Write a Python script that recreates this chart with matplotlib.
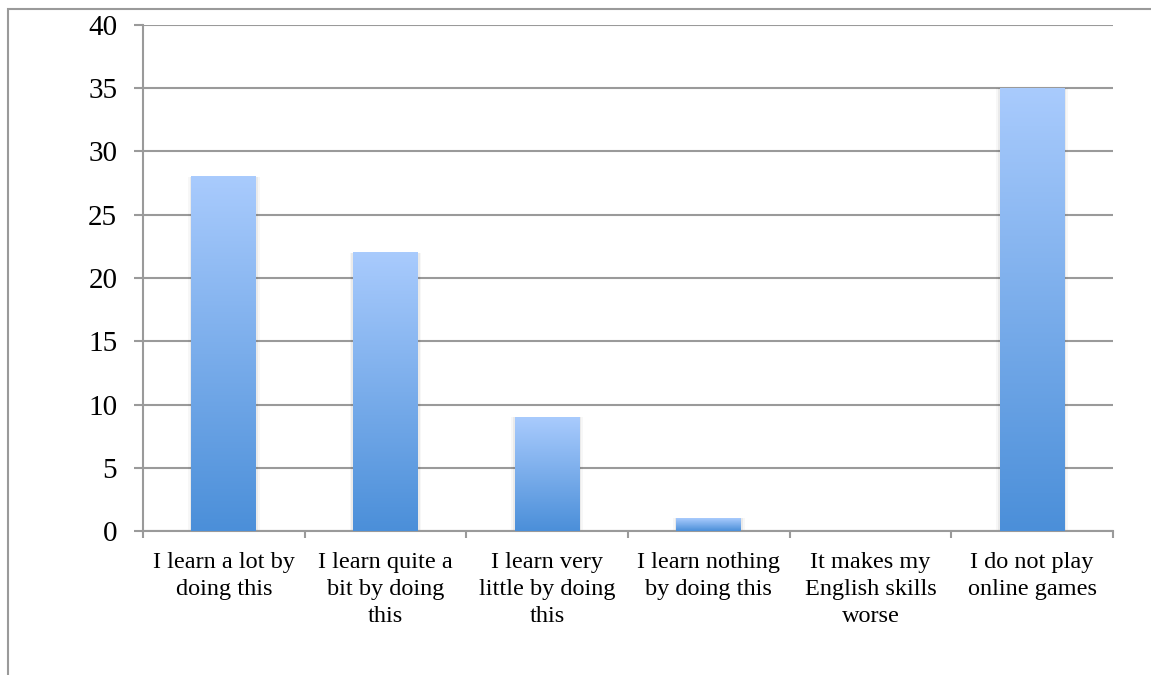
import numpy as np
import matplotlib.pyplot as plt
from matplotlib.colors import LinearSegmentedColormap
from matplotlib.patches import Rectangle

categories = [
    'I learn a lot by\ndoing this',
    'I learn quite a\nbit by doing\nthis',
    'I learn very\nlittle by doing\nthis',
    'I learn nothing\nby doing this',
    'It makes my\nEnglish skills\nworse',
    'I do not play\nonline games',
]
values = [28, 22, 9, 1, 0, 35]
y_ticks = [0, 5, 10, 15, 20, 25, 30, 35, 40]

plt.rcParams['font.family'] = ['Liberation Serif', 'DejaVu Serif']

fig = plt.figure(figsize=(11.51, 6.75), dpi=100)
ax = fig.add_axes([0.1242, 0.2133, 0.8428, 0.7497])

# outer chart frame (partly cut off in the original)
fig.add_artist(Rectangle((0.007, -0.1), 1.2, 1.087, transform=fig.transFigure,
                         fill=False, edgecolor='#9a9a9a', linewidth=1.5))

x = np.arange(len(categories))
bar_w = 0.40
cmap = LinearSegmentedColormap.from_list('bar', ['#4b8fd9', '#a9cbfd'])
grad = np.linspace(0, 1, 256).reshape(-1, 1)

bars = ax.bar(x, values, width=bar_w, color='none', zorder=3)
for b, v in zip(bars, values):
    if v <= 0:
        continue
    x0 = b.get_x()
    # soft shadow
    for k, a in [(0.022, 0.03), (0.012, 0.05)]:
        ax.add_patch(Rectangle((x0 - k, 0), bar_w + 2 * k, v, facecolor='#000000',
                               alpha=a, edgecolor='none', zorder=2))
    ax.imshow(grad, cmap=cmap, aspect='auto', origin='lower',
              extent=(x0, x0 + bar_w, 0, v), zorder=3)

ax.set_xlim(-0.5, len(categories) - 0.5)
ax.set_ylim(0, 40)
ax.set_yticks(y_ticks)
ax.yaxis.grid(True, color='#9a9a9a', linewidth=1.5, zorder=1)
ax.set_axisbelow(True)

ax.set_xticks(np.arange(len(categories) + 1) - 0.5, minor=False)
ax.set_xticklabels([])
ax.set_xticks(x, minor=True)
ax.set_xticklabels(categories, minor=True, fontsize=17.5, linespacing=1.38)
ax.tick_params(axis='x', which='minor', length=0, pad=15)
ax.tick_params(axis='x', which='major', length=5, width=1.5, color='#9a9a9a')
ax.tick_params(axis='y', length=6.5, width=1.5, color='#9a9a9a', labelsize=21, pad=12)

for s in ['top', 'right']:
    ax.spines[s].set_visible(False)
for s in ['left', 'bottom']:
    ax.spines[s].set_color('#9a9a9a')
    ax.spines[s].set_linewidth(1.5)

fig.savefig('out.png', dpi=100)
